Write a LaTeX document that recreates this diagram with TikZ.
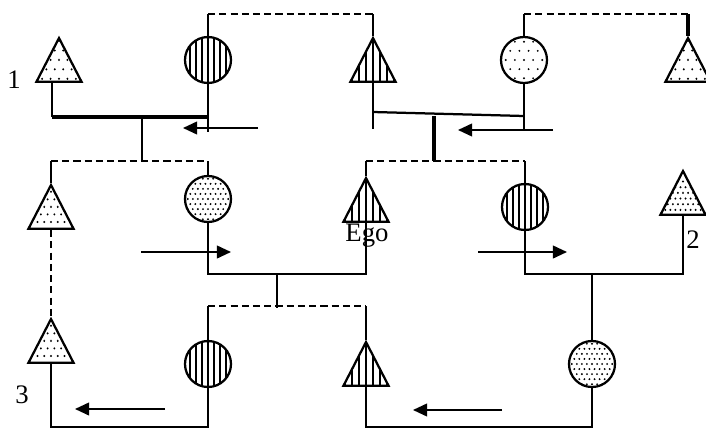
\documentclass[tikz,border=0pt]{standalone}
\usepackage{fontspec}
\setmainfont{Liberation Serif}
\usetikzlibrary{arrows.meta, shapes.geometric}

\begin{document}
\begin{tikzpicture}[
          x=0.025cm, y=-0.025cm,
          line width=1.6pt,
          circ/.style={circle, draw, fill=white, inner sep=0pt,
                       minimum size=1.15cm},
          tri/.style={regular polygon, regular polygon sides=3, draw,
                      fill=white, inner sep=0pt, minimum size=1.3cm,
                      yscale=1.12},
          vlines/.style={path picture={
              \foreach \i in {-5,...,5}
                \draw[black, line width=1pt]
                  ([xshift=\i*#1]path picture bounding box.north) --
                  ([xshift=\i*#1]path picture bounding box.south);}},
          dotfill/.style={path picture={
              \foreach \i in {-9,...,9}
                \foreach \j in {-9,...,9}
                  \fill[black] ([shift={({(\i+0.5*mod(\j,2))*#1},{\j*#1})}]path picture bounding box.center)
                    circle (0.75pt);}},
          link/.style={line width=1.6pt},
          bold/.style={line width=2.8pt},
          dashline/.style={line width=2pt, dash pattern=on 5pt off 3pt},
          arr/.style={-{Triangle[length=10pt, width=9pt]}, line width=1.4pt},
          lbl/.style={font=\fontsize{19}{22}\selectfont, inner sep=0pt}
        ]
        \useasboundingbox (0,0) rectangle (706,428);
        % first generation
        \node[tri, dotfill=6pt, anchor=south]  (a1) at (59,83) {};
        \node[circ, vlines=4.3pt]             (a2) at (208,60) {};
        \node[tri, vlines=5pt, anchor=south]   (a3) at (373,83) {};
        \node[circ, dotfill=6.5pt]            (a4) at (524,60) {};
        \node[tri, dotfill=6pt, anchor=south]  (a5) at (688,83) {};
        % second generation
        \node[tri, dotfill=4.8pt, anchor=south] (b1) at (51,230) {};
        \node[circ, dotfill=3.6pt]            (b2) at (208,199) {};
        \node[tri, vlines=5pt, anchor=south]   (ego) at (366,223) {};
        \node[circ, vlines=4.3pt]             (b4) at (525,207) {};
        \node[tri, dotfill=3.6pt, anchor=south] (b5) at (683,216) {};
        % third generation
        \node[tri, dotfill=4.8pt, anchor=south] (c1) at (51,364) {};
        \node[circ, vlines=4.3pt]             (c2) at (208,364) {};
        \node[tri, vlines=5pt, anchor=south]   (c3) at (366,387) {};
        \node[circ, dotfill=3.6pt]            (c4) at (592,364) {};
        % labels
        \node[lbl] (n1) at (14,80) {1};
        \node[lbl] (n2) at (693,240) {2};
        \node[lbl] (n3) at (22,395) {3};
        \node[lbl] (egot) at (367,236) {Ego};
        % joints
        \coordinate (u1) at (208,14);
        \coordinate (u2) at (373,14);
        \coordinate (u3) at (524,14);
        \coordinate (u4) at (688,14);
        \coordinate (m1) at (52,117);
        \coordinate (m2) at (208,117);
        \coordinate (m3) at (208,132);
        \coordinate (m4) at (373,129);
        \coordinate (m5) at (524,130);
        \coordinate (h1) at (373,112);
        \coordinate (h2) at (524,116);
        \coordinate (d1) at (142,161);
        \coordinate (d2) at (434,161);
        \coordinate (e1) at (51,161);
        \coordinate (e2) at (208,161);
        \coordinate (f1) at (366,161);
        \coordinate (f2) at (525,161);
        \coordinate (g1) at (208,274);
        \coordinate (g2) at (366,274);
        \coordinate (g3) at (277,308);
        \coordinate (g4) at (525,274);
        \coordinate (g5) at (683,274);
        \coordinate (g6) at (592,274);
        \coordinate (k1) at (208,306);
        \coordinate (k2) at (366,306);
        \coordinate (q1) at (51,427);
        \coordinate (q2) at (208,427);
        \coordinate (q3) at (366,427);
        \coordinate (q4) at (592,427);
        % top row
        \draw[link] (a1.south -| m1) -- (m1);
        \draw[bold] (m1) -- (m2);
        \draw[link] (u1) -- (a2.north);
        \draw[link] (a2.south) -- (m3);
        \draw[dashline] (u1) -- (u2);
        \draw[link] (u2) -- (a3.north);
        \draw[link] (a3.south) -- (m4);
        \draw[link] (u3) -- (a4.north);
        \draw[link] (a4.south) -- (m5);
        \draw[dashline] (u3) -- (u4);
        \draw[bold] (u4) -- (a5.north);
        \draw[link] (h1) -- (h2);
        \draw[link] (m1 -| d1) -- (d1);
        \draw[bold, line width=2.2pt] (d2 |- h2) -- (d2);
        % middle row
        \draw[dashline] (e1) -- (e2);
        \draw[link] (e1) -- (b1.north);
        \draw[link] (e2) -- (b2.north);
        \draw[dashline] (f1) -- (f2);
        \draw[link] (f1) -- (ego.north);
        \draw[link] (f2) -- (b4.north);
        \draw[dashline] (b1.south) -- (c1.north);
        \draw[link] (b2.south) -- (g1) -- (g2) -- (ego.south);
        \draw[link] (g3 |- g1) -- (g3);
        \draw[link] (b4.south) -- (g4) -- (g5) -- (b5.south);
        \draw[link] (g6) -- (c4.north);
        % bottom row
        \draw[dashline] (k1) -- (k2);
        \draw[link] (k1) -- (c2.north);
        \draw[link] (k2) -- (c3.north);
        \draw[link] (c2.south) -- (q2) -- (q1) -- (c1.south);
        \draw[link] (c4.south) -- (q4) -- (q3) -- (c3.south);
        % marriage direction
        \coordinate (r1) at (258,128);
        \coordinate (r2) at (183,128);
        \coordinate (r3) at (553,130);
        \coordinate (r4) at (458,130);
        \coordinate (r5) at (141,252);
        \coordinate (r6) at (231,252);
        \coordinate (r7) at (478,252);
        \coordinate (r8) at (567,252);
        \coordinate (r9) at (165,409);
        \coordinate (r10) at (75,409);
        \coordinate (r11) at (502,410);
        \coordinate (r12) at (413,410);
        \draw[arr] (r1) -- (r2);
        \draw[arr] (r3) -- (r4);
        \draw[arr] (r5) -- (r6);
        \draw[arr] (r7) -- (r8);
        \draw[arr] (r9) -- (r10);
        \draw[arr] (r11) -- (r12);
      \end{tikzpicture}
\end{document}
